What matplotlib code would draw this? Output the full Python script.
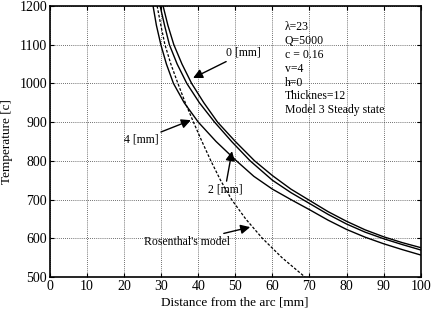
import matplotlib
matplotlib.use('Agg')
import matplotlib.pyplot as plt

plt.rcParams['font.family'] = ['Liberation Serif', 'DejaVu Serif']

# curves: distance [mm], temperature [c]
x_0mm = [30.5, 31.8, 33.4, 35.6, 38.2, 41.5, 45.2, 50.0, 55.2,
         60, 65, 70, 75, 80, 85, 90, 95, 100]
t_0mm = [1200, 1150, 1100, 1050, 1000, 950, 900, 850, 800,
         762, 727, 698, 669, 644, 622, 604, 589, 576]

x_2mm = [29.7, 30.9, 32.2, 34.3, 36.9, 40.3, 44.4, 49.0, 54.0,
         60, 65, 70, 75, 80, 85, 90, 95, 100]
t_2mm = [1200, 1150, 1100, 1050, 1000, 950, 900, 850, 800,
         750, 718, 690, 662, 637, 616, 599, 584, 570]

x_4mm = [27.8, 28.7, 29.9, 31.4, 33.3, 36.2, 40.0, 44.8, 50.3,
         55, 60, 65, 70, 75, 80, 85, 90, 95, 100]
t_4mm = [1200, 1150, 1100, 1050, 1000, 950, 900, 850, 800,
         760, 727, 700, 674, 647, 623, 603, 586, 571, 557]

x_ros = [28.9, 29.9, 31.0, 32.6, 34.5, 36.5, 38.7, 41.0, 43.4,
         46.0, 49.0, 52.8, 57.3, 62.6, 68.8]
t_ros = [1200, 1150, 1100, 1050, 1000, 950, 900, 850, 800,
         750, 700, 650, 600, 550, 500]

params = ['\u03bb=23', 'Q=5000', 'c = 0.16', 'v=4', 'h=0',
          'Thicknes=12', 'Model 3 Steady state']

fig = plt.figure(figsize=(4.35, 3.12), dpi=100)
ax = fig.add_axes([0.115, 0.112, 0.852, 0.869])

ax.plot(x_0mm, t_0mm, 'k-', lw=1.0)
ax.plot(x_2mm, t_2mm, 'k-', lw=1.0)
ax.plot(x_4mm, t_4mm, 'k-', lw=1.0)
ax.plot(x_ros, t_ros, color='k', lw=0.9, linestyle=(0, (2.2, 1.4)))

ax.set_xlim(0, 100)
ax.set_ylim(500, 1200)
ax.set_xticks(range(0, 101, 10))
ax.set_yticks(range(500, 1201, 100))
ax.grid(True, color='k', lw=0.6, linestyle=(0, (1, 1.5)), alpha=0.75)
ax.tick_params(direction='in', top=True, right=True, length=3,
               labelsize=10, pad=2)
for sp in ax.spines.values():
    sp.set_linewidth(1.2)

fig.text(0.54, 0.012, 'Distance from the arc [mm]', fontsize=9.5,
         ha='center', va='bottom')
ax.set_ylabel('Temperature [c]', fontsize=9.5, labelpad=5)

arrow = dict(arrowstyle='-|>', color='k', lw=1.0, mutation_scale=14,
             shrinkA=0, shrinkB=0)
ax.annotate('0 [mm]', xy=(38.6, 1014), xytext=(52.3, 1079), fontsize=8.5,
            ha='center', va='center', arrowprops=arrow)
ax.annotate('4 [mm]', xy=(38.0, 905), xytext=(24.5, 854), fontsize=8.5,
            ha='center', va='center', arrowprops=arrow)
ax.annotate('2 [mm]', xy=(49.1, 825), xytext=(47.2, 725), fontsize=8.5,
            ha='center', va='center', arrowprops=arrow)
ax.annotate("Rosenthal's model", xy=(54.0, 629), xytext=(37.0, 590),
            fontsize=8.5, ha='center', va='center', arrowprops=arrow)

ax.text(63.4, 1160, '\n'.join(params), fontsize=8.5, ha='left', va='top',
        linespacing=1.2)

fig.savefig('out.png', dpi=100)
